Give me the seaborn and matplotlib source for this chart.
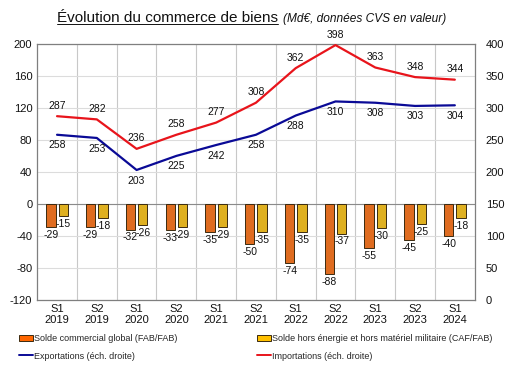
import matplotlib

matplotlib.use("Agg")

import matplotlib.pyplot as plt
import matplotlib.ticker as mtick
from matplotlib.lines import Line2D
from matplotlib.patches import Patch
import numpy as np
import pandas as pd
import seaborn as sns

periods = ["S1\n2019", "S2\n2019", "S1\n2020", "S2\n2020", "S1\n2021", "S2\n2021",
           "S1\n2022", "S2\n2022", "S1\n2023", "S2\n2023", "S1\n2024"]
solde_global = [-29, -29, -32, -33, -35, -50, -74, -88, -55, -45, -40]
solde_hors_energie = [-15, -18, -26, -29, -29, -35, -35, -37, -30, -25, -18]
exportations = [258, 253, 203, 225, 242, 258, 288, 310, 308, 303, 304]
importations = [287, 282, 236, 258, 277, 308, 362, 398, 363, 348, 344]

lab_global = "Solde commercial global (FAB/FAB)"
lab_hors = "Solde hors énergie et hors matériel militaire (CAF/FAB)"
lab_exp = "Exportations (éch. droite)"
lab_imp = "Importations (éch. droite)"

ORANGE = "#FF6600"
YELLOW = "#FFC000"
NAVY = "#0A0A96"
RED = "#E8141B"

sns.set_style("white")
plt.rcParams["font.family"] = ["Liberation Sans", "DejaVu Sans"]
plt.rcParams["axes.unicode_minus"] = False

bars = pd.DataFrame({
    "periode": periods * 2,
    "serie": [lab_global] * len(periods) + [lab_hors] * len(periods),
    "valeur": solde_global + solde_hors_energie,
})

fig = plt.figure(figsize=(5.16, 3.65), dpi=100)
ax = fig.add_axes([0.072, 0.178, 0.848, 0.702])

sns.barplot(data=bars, x="periode", y="valeur", hue="serie", order=periods,
            hue_order=[lab_global, lab_hors], palette=[ORANGE, YELLOW],
            width=0.62, gap=0.25, edgecolor="#3a2a10", linewidth=0.7,
            legend=False, ax=ax, zorder=3)

for container in ax.containers:
    ax.bar_label(container, fmt="%d", padding=2, fontsize=7.5, color="#111111")

ax.set_ylim(-120, 200)
ax.yaxis.set_major_locator(mtick.MultipleLocator(40))
ax.set_xlim(-0.5, len(periods) - 0.5)
ax.set_xlabel("")
ax.set_ylabel("")
ax.xaxis.set_minor_locator(mtick.FixedLocator(np.arange(0.5, len(periods) - 0.5, 1)))
ax.grid(axis="x", which="minor", color="#c8c8c8", linewidth=0.8, zorder=0)
ax.grid(axis="y", which="major", color="#dcdcdc", linewidth=0.8, zorder=0)
ax.axhline(0, color="#8a8a8a", linewidth=0.8, zorder=2)
ax.tick_params(axis="both", which="both", length=0, labelsize=8, colors="#111111")
ax.tick_params(axis="x", pad=3)
for lbl in ax.get_xticklabels():
    lbl.set_linespacing(1.05)
for side in ["left", "bottom", "right", "top"]:
    ax.spines[side].set_color("#7f7f7f")
    ax.spines[side].set_linewidth(0.9)

ax2 = ax.twinx()
x = np.arange(len(periods))
sns.lineplot(x=x, y=importations, color=RED, linewidth=1.6, ax=ax2)
sns.lineplot(x=x, y=exportations, color=NAVY, linewidth=1.6, ax=ax2)
ax2.set_ylim(0, 400)
ax2.yaxis.set_major_locator(mtick.MultipleLocator(50))
ax2.set_xlim(-0.5, len(periods) - 0.5)
ax2.tick_params(axis="y", length=0, labelsize=8, colors="#111111", pad=8)
for side in ["left", "bottom", "right", "top"]:
    ax2.spines[side].set_visible(False)

for xi, v in zip(x, importations):
    ax2.annotate(f"{v}", (xi, v), xytext=(0, 4), textcoords="offset points",
                 ha="center", va="bottom", fontsize=7.5, color="#111111")
for xi, v in zip(x, exportations):
    ax2.annotate(f"{v}", (xi, v), xytext=(0, -4), textcoords="offset points",
                 ha="center", va="top", fontsize=7.5, color="#111111")

handles = [
    Patch(facecolor=ORANGE, edgecolor="#3a2a10", linewidth=0.7, label=lab_global),
    Line2D([], [], color=NAVY, linewidth=1.4, label=lab_exp),
    Patch(facecolor=YELLOW, edgecolor="#3a2a10", linewidth=0.7, label=lab_hors),
    Line2D([], [], color=RED, linewidth=1.4, label=lab_imp),
]
fig.legend(handles=handles, ncol=2, loc="upper left", bbox_to_anchor=(0.03, 0.095),
           frameon=False, fontsize=6.5, handlelength=1.5, handleheight=0.6,
           handletextpad=0.1, columnspacing=8.9, labelspacing=0.95, borderaxespad=0)

title = fig.text(0.11, 0.95, "Évolution du commerce de biens", fontsize=11,
                 ha="left", va="center", color="#111111")

fig.canvas.draw()
bb = title.get_window_extent().transformed(fig.transFigure.inverted())
fig.add_artist(Line2D([bb.x0, bb.x1], [bb.y0 + 0.004, bb.y0 + 0.004],
                      transform=fig.transFigure, color="#111111", linewidth=0.7))
fig.text(bb.x1 + 0.01, 0.948, "(Md€, données CVS en valeur)", fontsize=8.6,
         style="italic", ha="left", va="center", color="#111111")

fig.savefig("out.png", dpi=100, facecolor="white")
